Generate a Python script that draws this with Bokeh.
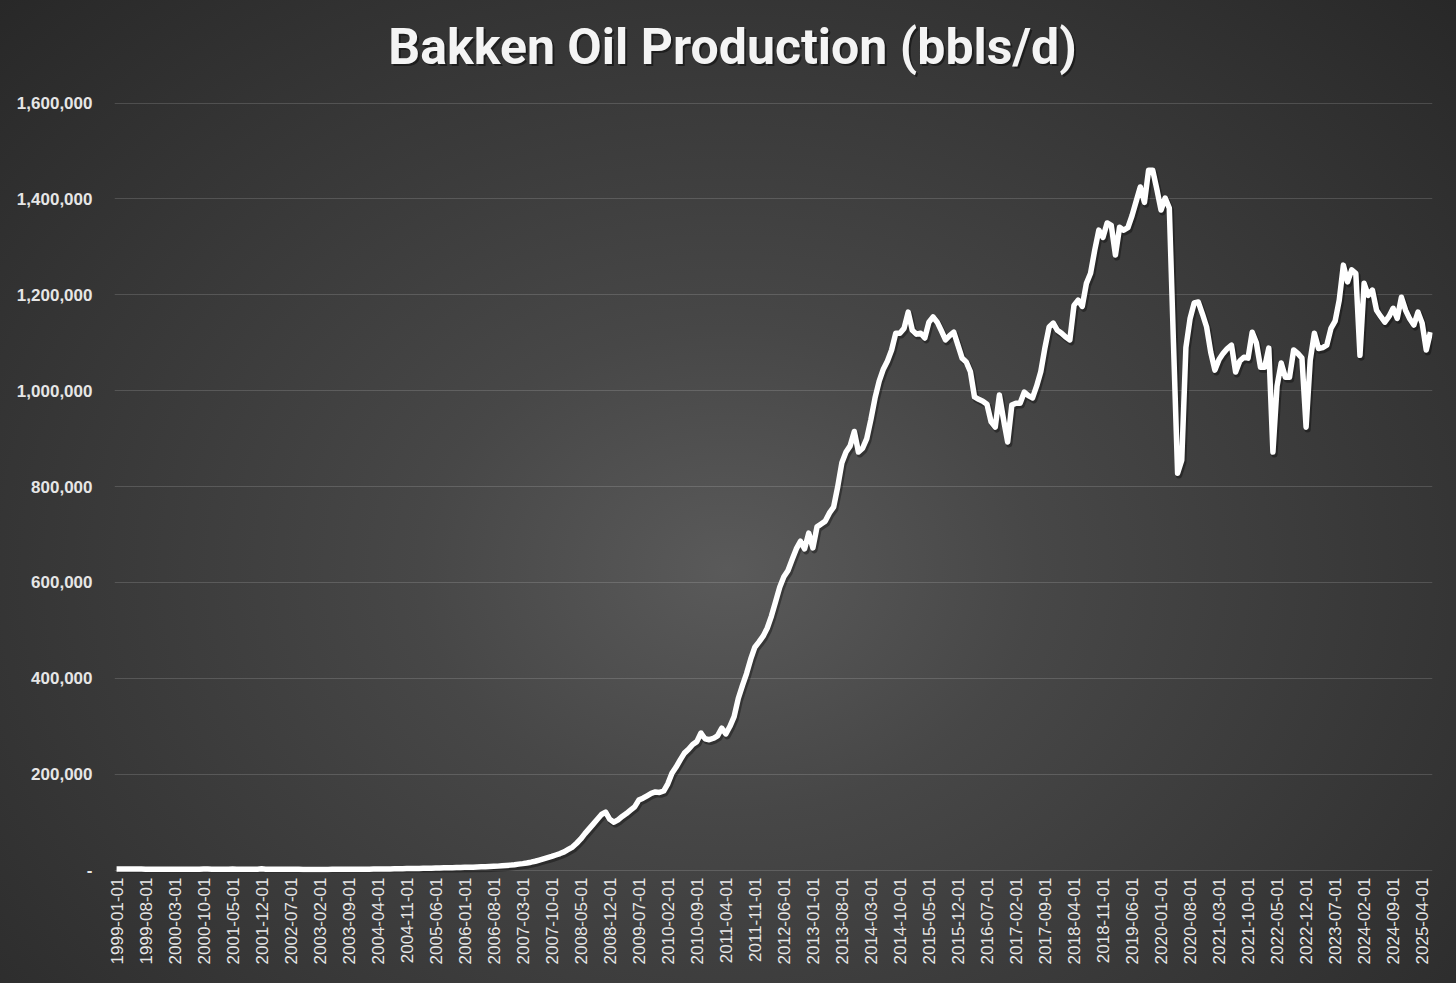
import math
import pandas as pd
from bokeh.plotting import figure
from bokeh.models import Range1d, FixedTicker, NumeralTickFormatter, ColumnDataSource
from bokeh.core.properties import value
from bokeh.embed import file_html
from bokeh.resources import INLINE

# Monthly Bakken oil production (bbls/d)
prod_1999 = [2400, 2300, 2300, 2200, 2200, 2100, 2100, 2000, 2000, 2000, 1900, 1900]
prod_2000 = [1900, 1900, 1800, 1800, 1800, 1800, 1700, 1700, 1800, 2500, 2200, 1900]
prod_2001 = [1800, 1700, 1800, 1900, 2400, 2000, 1800, 1700, 1700, 1700, 1800, 2600]
prod_2002 = [2000, 1800, 1700, 1700, 1600, 1600, 1600, 1600, 1600, 1500, 1500, 1500]
prod_2003 = [1500, 1500, 1500, 1500, 1600, 1600, 1600, 1700, 1700, 1800, 1800, 1900]
prod_2004 = [2000, 2000, 2100, 2200, 2300, 2400, 2500, 2600, 2800, 3000, 3100, 3200]
prod_2005 = [3400, 3600, 3800, 3900, 4100, 4300, 4500, 4700, 4900, 5000, 5200, 5500]
prod_2006 = [5800, 6000, 6200, 6500, 6800, 7000, 7400, 7800, 8300, 8900, 9600, 10400]
prod_2007 = [11300, 12500, 13500, 14800, 16500, 18500, 21000, 23500, 26000, 28500, 31500, 34500]
prod_2008 = [38000, 43000, 48000, 56000, 65000, 76000, 86000, 96000, 106000, 116000, 121000, 106000]
prod_2009 = [100000, 105000, 112000, 118000, 125000, 132000, 146000, 150000, 155000, 160000, 163000, 162000]
prod_2010 = [165000, 180000, 202000, 215000, 230000, 244000, 252000, 262000, 268000, 286000, 274000, 272000]
prod_2011 = [275000, 280000, 296000, 284000, 300000, 320000, 358000, 385000, 410000, 440000, 465000, 476000]
prod_2012 = [488000, 505000, 530000, 560000, 590000, 612000, 625000, 648000, 670000, 686000, 670000, 703000]
prod_2013 = [672000, 716000, 722000, 728000, 745000, 757000, 800000, 850000, 872000, 885000, 915000, 872000]
prod_2014 = [880000, 900000, 940000, 985000, 1020000, 1045000, 1062000, 1085000, 1120000, 1120000, 1130000, 1164000]
prod_2015 = [1126000, 1118000, 1120000, 1110000, 1143000, 1154000, 1143000, 1125000, 1106000, 1115000, 1122000, 1095000]
prod_2016 = [1068000, 1060000, 1040000, 987000, 982000, 978000, 972000, 935000, 924000, 991000, 940000, 893000]
prod_2017 = [970000, 974000, 974000, 997000, 990000, 985000, 1010000, 1040000, 1090000, 1133000, 1141000, 1126000]
prod_2018 = [1120000, 1112000, 1106000, 1178000, 1189000, 1176000, 1224000, 1245000, 1293000, 1335000, 1320000, 1350000]
prod_2019 = [1345000, 1283000, 1341000, 1335000, 1340000, 1365000, 1395000, 1425000, 1393000, 1460000, 1460000, 1420000]
prod_2020 = [1377000, 1402000, 1381000, 1100000, 828000, 855000, 1090000, 1150000, 1183000, 1185000, 1160000, 1133000]
prod_2021 = [1080000, 1043000, 1065000, 1078000, 1088000, 1095000, 1039000, 1062000, 1070000, 1068000, 1122000, 1100000]
prod_2022 = [1049000, 1049000, 1089000, 872000, 1010000, 1058000, 1028000, 1028000, 1085000, 1078000, 1068000, 924000]
prod_2023 = [1064000, 1120000, 1088000, 1090000, 1095000, 1130000, 1145000, 1189000, 1262000, 1227000, 1252000, 1245000]
prod_2024 = [1074000, 1224000, 1199000, 1210000, 1168000, 1155000, 1143000, 1155000, 1172000, 1151000, 1195000, 1168000]
prod_2025 = [1150000, 1137000, 1164000, 1141000, 1085000, 1122000]

production = (prod_1999 + prod_2000 + prod_2001 + prod_2002 + prod_2003 + prod_2004 +
              prod_2005 + prod_2006 + prod_2007 + prod_2008 + prod_2009 + prod_2010 +
              prod_2011 + prod_2012 + prod_2013 + prod_2014 + prod_2015 + prod_2016 +
              prod_2017 + prod_2018 + prod_2019 + prod_2020 + prod_2021 + prod_2022 +
              prod_2023 + prod_2024 + prod_2025)

months = pd.date_range("1999-01-01", periods=len(production), freq="MS").strftime("%Y-%m-%d").tolist()
label_step = 7
y_ticks = [0, 200000, 400000, 600000, 800000, 1000000, 1200000, 1400000, 1600000]
title_text = "Bakken Oil Production (bbls/d)"

idx = list(range(len(production)))
tick_idx = idx[::label_step]

src = ColumnDataSource(dict(
    idx=idx,
    production=production,
    sx=[i + 0.35 for i in idx],
    sy=[v - 4500 for v in production],
))

# ---- layout geometry (pixels) ----
W, H = 1456, 983
border_left, border_right, border_top, border_bottom = 114, 24, 10, 111
frame_h = H - border_top - border_bottom
frame_w = W - border_left - border_right
y_axis_px = 767                     # pixel height of 0 .. y_ticks[-1]
units_per_px = y_ticks[-1] / y_axis_px
y_start = -5000
y_end = y_start + frame_h * units_per_px
x_start, x_end = -0.5, len(production) - 0.5
months_per_px = (x_end - x_start) / frame_w

# title position: page x=732, placed above the top gridline
title_x = x_start + (732 - border_left) * months_per_px
title_y = y_ticks[-1] + 56 * units_per_px

p = figure(width=W, height=H, output_backend="svg", toolbar_location=None,
           title_location=None,
           x_range=Range1d(x_start, x_end),
           y_range=Range1d(y_start, y_end),
           min_border_left=border_left, min_border_right=border_right,
           min_border_top=border_top, min_border_bottom=border_bottom)
p.background_fill_alpha = 0
p.border_fill_alpha = 0
p.outline_line_color = None
p.styles = {
    "background": "radial-gradient(ellipse farthest-corner at 50% 58%, #5a5a5a 0%, #474747 30%, #282828 100%)",
}

title_src = ColumnDataSource(dict(x=[title_x], y=[title_y], t=[title_text]))
p.text(x="x", y="y", text="t", source=title_src, x_offset=2, y_offset=2,
       text_align="center", text_baseline="alphabetic",
       text_font=value("Roboto"), text_font_style="bold", text_font_size="50px",
       text_color="black", text_alpha=0.45)
p.text(x="x", y="y", text="t", source=title_src,
       text_align="center", text_baseline="alphabetic",
       text_font=value("Roboto"), text_font_style="bold", text_font_size="50px",
       text_color="#f4f4f4")

# shadow + line
p.line(x="sx", y="sy", source=src, line_color="black", line_alpha=0.35, line_width=6.5, line_join="round")
p.line(x="idx", y="production", source=src, line_color="white", line_width=5.5, line_join="round")

xa = p.xaxis[0]
xa.ticker = FixedTicker(ticks=tick_idx)
xa.major_label_overrides = {i: months[i] for i in tick_idx}
xa.major_label_orientation = math.pi / 2
xa.axis_line_color = None
xa.major_tick_line_color = None
xa.minor_tick_line_color = None
xa.major_tick_out = 0
xa.major_tick_in = 0
xa.major_label_text_font = "Liberation Sans"
xa.major_label_text_font_size = "17px"
xa.major_label_text_color = "#e6e6e6"
xa.major_label_standoff = 5

ya = p.yaxis[0]
ya.ticker = FixedTicker(ticks=y_ticks)
ya.formatter = NumeralTickFormatter(format="0,0")
ya.major_label_overrides = {0: "-"}
ya.axis_line_color = None
ya.major_tick_line_color = None
ya.minor_tick_line_color = None
ya.major_tick_out = 0
ya.major_tick_in = 0
ya.major_label_text_font = "Liberation Sans"
ya.major_label_text_font_style = "bold"
ya.major_label_text_font_size = "17px"
ya.major_label_text_color = "#e6e6e6"
ya.major_label_standoff = 22

p.xgrid.grid_line_color = None
p.ygrid.grid_line_color = "white"
p.ygrid.grid_line_alpha = 0.15
p.ygrid.grid_line_width = 1

open("out.html", "w").write(file_html(p, INLINE))
